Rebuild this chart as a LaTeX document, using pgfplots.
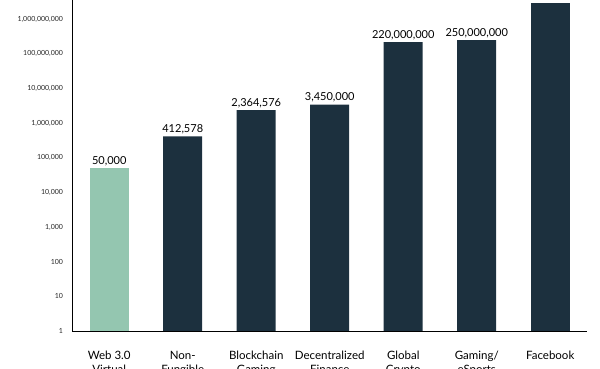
\documentclass[border=0pt]{standalone}
\usepackage{pgfplots}
\pgfplotsset{compat=1.18}
\usepackage{fontspec}
\setmainfont{Lato}
\definecolor{dark}{HTML}{1C303E}
\definecolor{mint}{HTML}{94C6B0}
\begin{document}
\begin{tikzpicture}
\begin{axis}[
  scale only axis, width=514.5pt, height=331pt,
  at={(0pt,0pt)}, anchor=south west,
  ymode=log, ymin=1, ymax=3.6e9,
  xmin=-0.5, xmax=6.5,
  axis x line*=bottom, axis y line*=left,
  axis line style={black, line width=0.7pt, -},
  tick style={draw=none},
  ytick={1,10,100,1000,10000,100000,1000000,10000000,100000000,1000000000},
  yticklabels={1,10,100,{1,000},{10,000},{100,000},{1,000,000},{10,000,000},{100,000,000},{1,000,000,000}},
  yticklabel style={font=\fontsize{7}{8}\selectfont, xshift=-6pt, text=black!85},
  xtick={0,1,2,3,4,5,6},
  xticklabels={{Web 3.0\\Virtual},{Non-\\Fungible},{Blockchain\\Gaming},{Decentralized\\Finance},{Global\\Crypto},{Gaming/\\eSports},{Facebook}},
  xticklabel style={align=center, font=\fontsize{11.5}{14.5}\selectfont, yshift=-12pt},
  ybar, bar width=39pt, bar shift=0pt,
  point meta=explicit symbolic,
  nodes near coords,
  nodes near coords style={font=\fontsize{11}{13}\selectfont, inner sep=2pt, text=black},
]
\addplot[fill=mint, draw=none] coordinates {(0,50000) [50,000]};
\addplot[fill=dark, draw=none] coordinates {
  (1,412578) [412,578]
  (2,2364576) [2,364,576]
  (3,3450000) [3,450,000]
  (4,220000000) [220,000,000]
  (5,250000000) [250,000,000]
};
\addplot[fill=dark, draw=none, nodes near coords={}] coordinates {(6,2900000000) []};
\end{axis}
\pgfresetboundingbox
\useasboundingbox (-72.5pt,-38pt) rectangle (527.5pt,331pt);
\end{tikzpicture}
\end{document}
